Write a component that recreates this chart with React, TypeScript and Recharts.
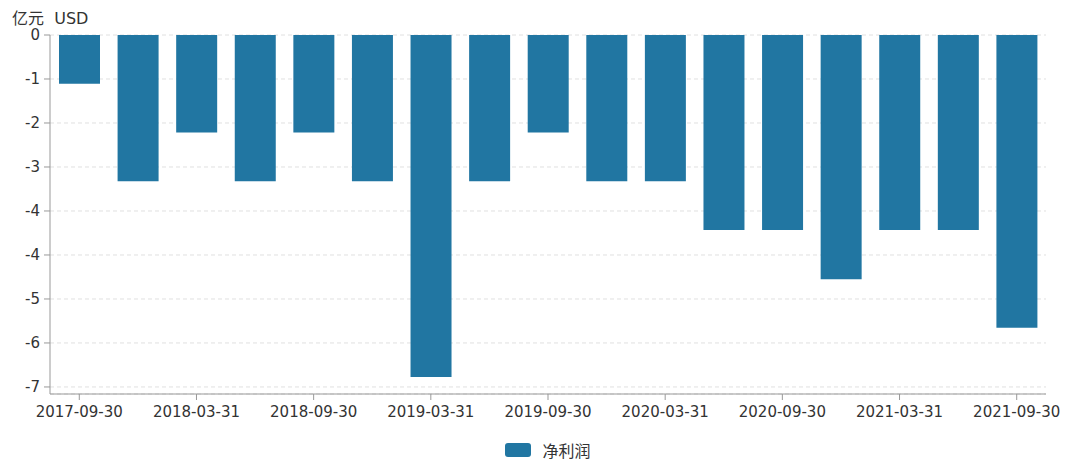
import React from 'react';
import { BarChart, Bar, XAxis, YAxis, CartesianGrid, Legend } from 'recharts';

const quarters = [
  '2017-09-30', '2017-12-31', '2018-03-31', '2018-06-30', '2018-09-30', '2018-12-31',
  '2019-03-31', '2019-06-30', '2019-09-30', '2019-12-31', '2020-03-31', '2020-06-30',
  '2020-09-30', '2020-12-31', '2021-03-31', '2021-06-30', '2021-09-30',
];
const netProfit = [
  -0.97, -2.91, -1.94, -2.91, -1.94, -2.91, -6.8, -2.91, -1.94, -2.91, -2.91, -3.88,
  -3.88, -4.86, -3.88, -3.88, -5.82,
];
const yTicks = [0, -0.875, -1.75, -2.625, -3.5, -4.375, -5.25, -6.125, -7];

const data = quarters.map((q, i) => ({ date: q, profit: netProfit[i] }));

const BAR_COLOR = '#2176a2';
const FONT = '"DejaVu Sans", "Noto Sans CJK SC", sans-serif';

const LegendContent = () => (
  <div style={{ display: 'flex', justifyContent: 'center', alignItems: 'center', height: 30, paddingLeft: 50, fontFamily: FONT, fontSize: 16, color: '#333' }}>
    <span style={{ display: 'inline-block', width: 26, height: 14, borderRadius: 3, background: BAR_COLOR, marginRight: 11 }} />
    <span>净利润</span>
  </div>
);

export default function App() {
  return (
    <div style={{ position: 'absolute', left: 0, top: 0, width: 1080, height: 465, background: '#fff' }}>
      <div style={{ position: 'absolute', left: 12, top: 5, fontFamily: FONT, fontSize: 16, color: '#333', whiteSpace: 'pre' }}>
        亿元  USD
      </div>
      <BarChart width={1080} height={465} data={data} margin={{ top: 35, right: 34, left: 0, bottom: 0 }}>
        <CartesianGrid horizontal vertical={false} stroke="#e0e0e0" strokeDasharray="4 3" />
        <XAxis
          dataKey="date"
          interval={1}
          height={41}
          tickSize={6}
          tickMargin={6}
          stroke="#999"
          tick={{ fill: '#333', fontSize: 15, fontFamily: FONT }}
        />
        <YAxis
          width={50}
          domain={[-7.14, 0]}
          ticks={yTicks}
          tickFormatter={(v: number) => v.toFixed(0)}
          tickSize={6}
          tickMargin={4}
          stroke="#999"
          tick={{ fill: '#333', fontSize: 15, fontFamily: FONT }}
        />
        <Legend verticalAlign="bottom" height={30} content={<LegendContent />} />
        <Bar dataKey="profit" name="净利润" fill={BAR_COLOR} barSize={41} isAnimationActive={false} />
      </BarChart>
    </div>
  );
}
